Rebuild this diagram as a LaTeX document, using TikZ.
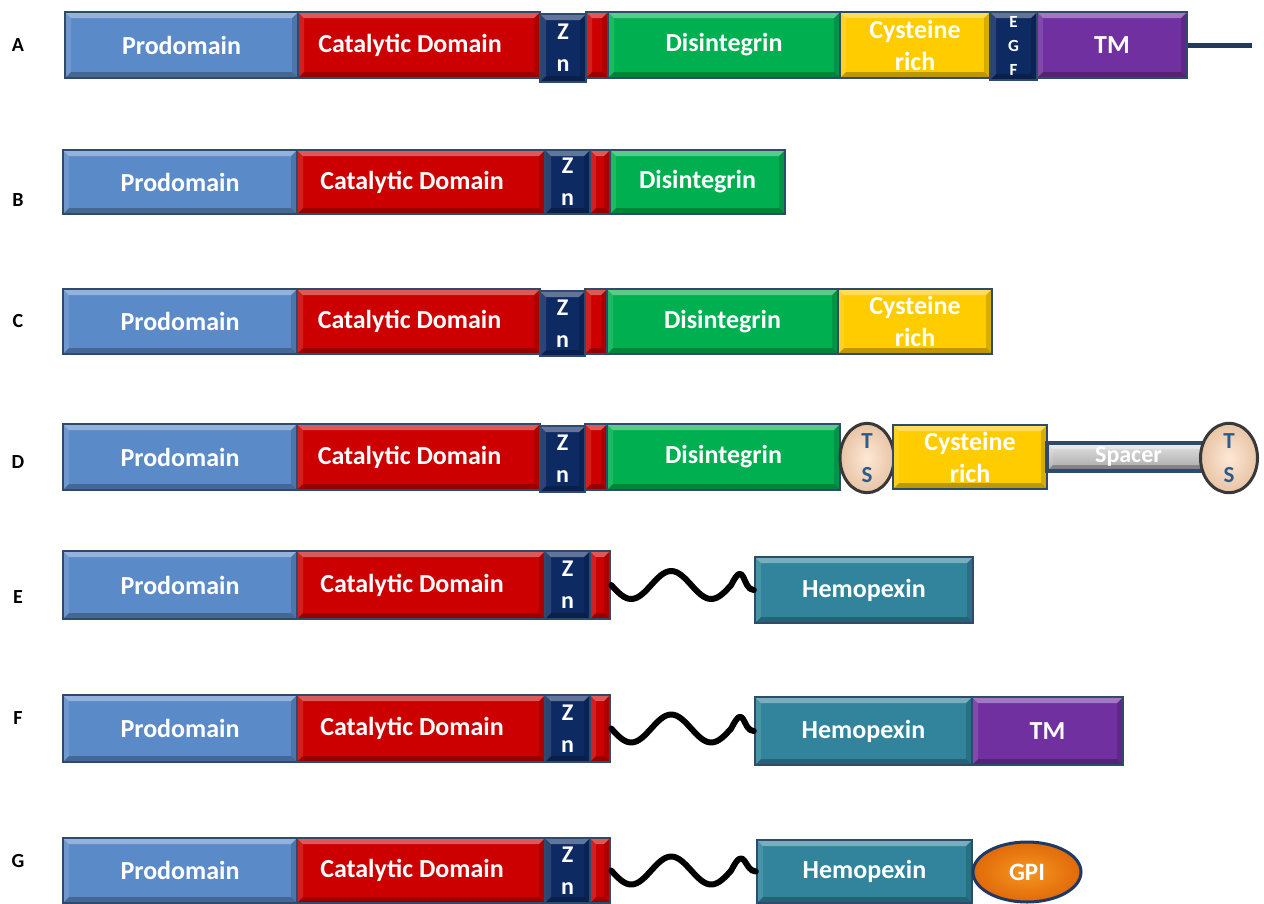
\documentclass[tikz,border=0pt]{standalone}
\usepackage{fontspec}
\setmainfont{Carlito}
\usetikzlibrary{shapes.geometric}
\definecolor{bord}{HTML}{2F4B6C}
\definecolor{pro}{HTML}{5B8AC8}
\definecolor{cat}{HTML}{CC0000}
\definecolor{zn}{HTML}{0E2A63}
\definecolor{dis}{HTML}{00B050}
\definecolor{cys}{HTML}{FFCC00}
\definecolor{tmc}{HTML}{7030A0}
\definecolor{hem}{HTML}{31849B}
\definecolor{gpiin}{HTML}{F7961E}
\definecolor{gpiout}{HTML}{E0690A}
\definecolor{tsc}{HTML}{FCD5B4}
\definecolor{tstext}{HTML}{2E5C8A}
\definecolor{navy}{HTML}{1F3864}
\tikzset{
  bev/.style={path picture={
    \fill[white,opacity=.35] (path picture bounding box.north west) -- (path picture bounding box.north east) -- ([shift={(-6pt,-6pt)}]path picture bounding box.north east) -- ([shift={(6pt,-6pt)}]path picture bounding box.north west) -- cycle;
    \fill[white,opacity=.12] (path picture bounding box.north west) -- ([shift={(6pt,-6pt)}]path picture bounding box.north west) -- ([shift={(6pt,6pt)}]path picture bounding box.south west) -- (path picture bounding box.south west) -- cycle;
    \fill[black,opacity=.25] (path picture bounding box.south west) -- (path picture bounding box.south east) -- ([shift={(-6pt,6pt)}]path picture bounding box.south east) -- ([shift={(6pt,6pt)}]path picture bounding box.south west) -- cycle;
    \fill[black,opacity=.15] (path picture bounding box.north east) -- ([shift={(-6pt,-6pt)}]path picture bounding box.north east) -- ([shift={(-6pt,6pt)}]path picture bounding box.south east) -- (path picture bounding box.south east) -- cycle;
  }},
  dom/.style={draw=bord, line width=2.4pt, rectangle, inner sep=0pt, text=white,
    font=\bfseries\fontsize{26}{32}\selectfont, align=center, bev},
  znbox/.style={fill=zn, font=\bfseries\fontsize{24}{32}\selectfont},
  egfbox/.style={fill=zn, font=\bfseries\fontsize{17}{24}\selectfont},
  rowlab/.style={font=\bfseries\fontsize{20}{24}\selectfont, text=black, inner sep=0pt},
  tsnode/.style={ellipse, draw=black!78, line width=3pt, inner color=tsc!55, outer color=tsc!92!black,
    inner sep=0pt, text=tstext, align=center, font=\bfseries\fontsize{23}{34}\selectfont},
  wave/.style={line width=6pt, line cap=round, line join=round},
}
\newcommand\dombox[7]{\node[dom,#6,minimum width={((#3)-(#2))*1pt},minimum height={((#5)-(#4))*1pt}] (#1) at ({((#2)+(#3))/2},{((#4)+(#5))/2}) {#7};}
\newcommand\cattxt{Catalytic Domain\hspace*{18pt}}
\begin{document}
\begin{tikzpicture}[x=1pt,y=-1pt]
\useasboundingbox (0,0) rectangle (1264,903);
% Row labels
\node[rowlab] (lA) at (18,45) {A};
\node[rowlab] (lB) at (18,200) {B};
\node[rowlab] (lC) at (18,321) {C};
\node[rowlab] (lD) at (18,462) {D};
\node[rowlab] (lE) at (18,597) {E};
\node[rowlab] (lF) at (18,718) {F};
\node[rowlab] (lG) at (18,861) {G};
% Row A
\dombox{pA}{65}{298}{12}{78}{fill=pro}{Prodomain}
\dombox{cA}{298}{540}{12}{78}{fill=cat}{\cattxt}
\dombox{zA}{540}{586}{14}{82}{znbox}{Z\\n}
\dombox{rA}{586}{608}{12}{78}{fill=cat}{}
\dombox{dA}{608}{840}{12}{78}{fill=dis}{Disintegrin}
\dombox{yA}{840}{990}{12}{78}{fill=cys}{Cysteine\\rich}
\dombox{eA}{990}{1037}{12}{80}{egfbox}{E\\G\\F}
\dombox{tA}{1037}{1187}{12}{78}{fill=tmc}{TM}
\coordinate (endA) at (1252,45);
\draw[navy, line width=5pt] (tA.east) -- (endA);
% Row B
\dombox{pB}{63}{297}{150}{214}{fill=pro}{Prodomain}
\dombox{cB}{297}{545}{150}{214}{fill=cat}{\cattxt}
\dombox{zB}{545}{590}{150}{214}{znbox}{Z\\n}
\dombox{rB}{590}{610}{150}{214}{fill=cat}{}
\dombox{dB}{610}{785}{150}{214}{fill=dis}{Disintegrin}
% Row C
\dombox{pC}{63}{297}{289}{354}{fill=pro}{Prodomain}
\dombox{cC}{297}{540}{289}{354}{fill=cat}{\cattxt}
\dombox{zC}{540}{585}{291}{356}{znbox}{Z\\n}
\dombox{rC}{585}{607}{289}{354}{fill=cat}{}
\dombox{dC}{607}{838}{289}{354}{fill=dis}{Disintegrin}
\dombox{yC}{838}{992}{289}{354}{fill=cys}{Cysteine\\rich}
% Row D
\dombox{pD}{63}{297}{424}{490}{fill=pro}{Prodomain}
\dombox{cD}{297}{540}{424}{490}{fill=cat}{\cattxt}
\dombox{zD}{540}{585}{426}{492}{znbox}{Z\\n}
\dombox{rD}{585}{607}{424}{490}{fill=cat}{}
\dombox{dD}{607}{840}{424}{490}{fill=dis}{Disintegrin}
\node[tsnode, minimum width=54pt, minimum height=66pt] (ts1) at (867,458) {T\\S};
\dombox{yD}{893}{1047}{425}{489}{fill=cys}{Cysteine\\rich}
\dombox{sD}{1047}{1210}{443}{471}{line width=3.5pt, top color=gray!22, bottom color=gray!70, text=white, font=\bfseries\fontsize{24}{26}\selectfont}{Spacer}
\node[tsnode, minimum width=57pt, minimum height=66pt] (ts2) at (1229,458) {T\\S};
% Row E
\dombox{pE}{63}{297}{551}{619}{fill=pro}{Prodomain}
\dombox{cE}{297}{545}{551}{619}{fill=cat}{\cattxt}
\dombox{zE}{545}{590}{551}{619}{znbox}{Z\\n}
\dombox{rE}{590}{610}{551}{619}{fill=cat}{}
\dombox{hE}{755}{973}{557}{623}{fill=hem}{Hemopexin}
\draw[wave] (rE.east) sin ++(20,14) cos ++(20,-14) sin ++(20,-14) cos ++(20,14) sin ++(20,14) cos ++(20,-14) .. controls +(14,-28) and +(-12,0) .. (hE.west);
% Row F
\dombox{pF}{63}{297}{695}{762}{fill=pro}{Prodomain}
\dombox{cF}{297}{545}{695}{762}{fill=cat}{\cattxt}
\dombox{zF}{545}{590}{695}{762}{znbox}{Z\\n}
\dombox{rF}{590}{610}{695}{762}{fill=cat}{}
\dombox{hF}{755}{972}{697}{765}{fill=hem}{Hemopexin}
\dombox{tF}{972}{1123}{697}{765}{fill=tmc}{TM}
\draw[wave] (rF.east) sin ++(20,14) cos ++(20,-14) sin ++(20,-14) cos ++(20,14) sin ++(20,14) cos ++(20,-14) .. controls +(14,-28) and +(-12,0) .. (hF.west);
% Row G
\dombox{pG}{63}{297}{838}{903}{fill=pro}{Prodomain}
\dombox{cG}{297}{545}{838}{903}{fill=cat}{\cattxt}
\dombox{zG}{545}{590}{838}{903}{znbox}{Z\\n}
\dombox{rG}{590}{610}{838}{903}{fill=cat}{}
\dombox{hG}{757}{972}{840}{903}{fill=hem}{Hemopexin}
\node[ellipse, draw=navy, line width=3pt, inner color=gpiin, outer color=gpiout, minimum width=108pt, minimum height=60pt, inner sep=0pt, text=white, font=\bfseries\fontsize{25}{30}\selectfont] (gpi) at (1027,872) {GPI};
\draw[wave] (rG.east) sin ++(20,14) cos ++(20,-14) sin ++(20,-14) cos ++(20,14) sin ++(20,14) cos ++(20,-14) .. controls +(14,-28) and +(-12,0) .. (hG.west);
\end{tikzpicture}
\end{document}
